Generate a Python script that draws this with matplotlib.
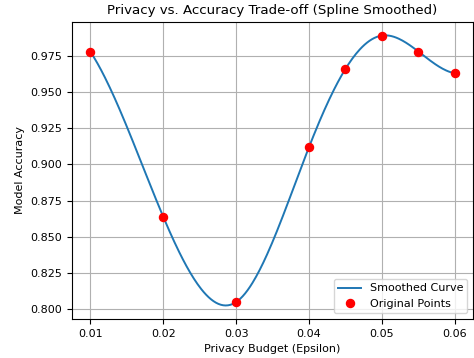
import numpy as np
import matplotlib
matplotlib.use("Agg")
import matplotlib.pyplot as plt

epsilon = [0.01, 0.02, 0.03, 0.04, 0.045, 0.05, 0.055, 0.06]
accuracy = [0.978, 0.864, 0.805, 0.912, 0.966, 0.989, 0.978, 0.963]


def not_a_knot_spline(x, y, xs):
    x = np.asarray(x, float)
    y = np.asarray(y, float)
    n = len(x)
    h = np.diff(x)
    A = np.zeros((n, n))
    b = np.zeros(n)
    A[0, 0], A[0, 1], A[0, 2] = h[1], -(h[0] + h[1]), h[0]
    for i in range(1, n - 1):
        A[i, i - 1] = h[i - 1]
        A[i, i] = 2 * (h[i - 1] + h[i])
        A[i, i + 1] = h[i]
        b[i] = 6 * ((y[i + 1] - y[i]) / h[i] - (y[i] - y[i - 1]) / h[i - 1])
    A[-1, -3], A[-1, -2], A[-1, -1] = h[-1], -(h[-2] + h[-1]), h[-2]
    M = np.linalg.solve(A, b)
    idx = np.clip(np.searchsorted(x, xs) - 1, 0, n - 2)
    x0, x1 = x[idx], x[idx + 1]
    hh = h[idx]
    return (M[idx] * (x1 - xs) ** 3 / (6 * hh)
            + M[idx + 1] * (xs - x0) ** 3 / (6 * hh)
            + (y[idx] / hh - M[idx] * hh / 6) * (x1 - xs)
            + (y[idx + 1] / hh - M[idx + 1] * hh / 6) * (xs - x0))


xs = np.linspace(min(epsilon), max(epsilon), 300)
ys = not_a_knot_spline(epsilon, accuracy, xs)

fig = plt.figure(figsize=(4.74, 3.58), dpi=100)
ax = fig.add_axes([0.152, 0.109, 0.846, 0.830])
ax.plot(xs, ys, lw=1.4, label='Smoothed Curve')
ax.plot(epsilon, accuracy, 'ro', markersize=5.8, label='Original Points')
ax.set_title('Privacy vs. Accuracy Trade-off (Spline Smoothed)', fontsize=9.6)
ax.set_xlabel('Privacy Budget (Epsilon)', fontsize=8)
ax.set_ylabel('Model Accuracy', fontsize=8)
ax.tick_params(labelsize=8)
ax.grid(True)
ax.legend(loc='lower right', fontsize=8)
fig.savefig('out.png', dpi=100)
